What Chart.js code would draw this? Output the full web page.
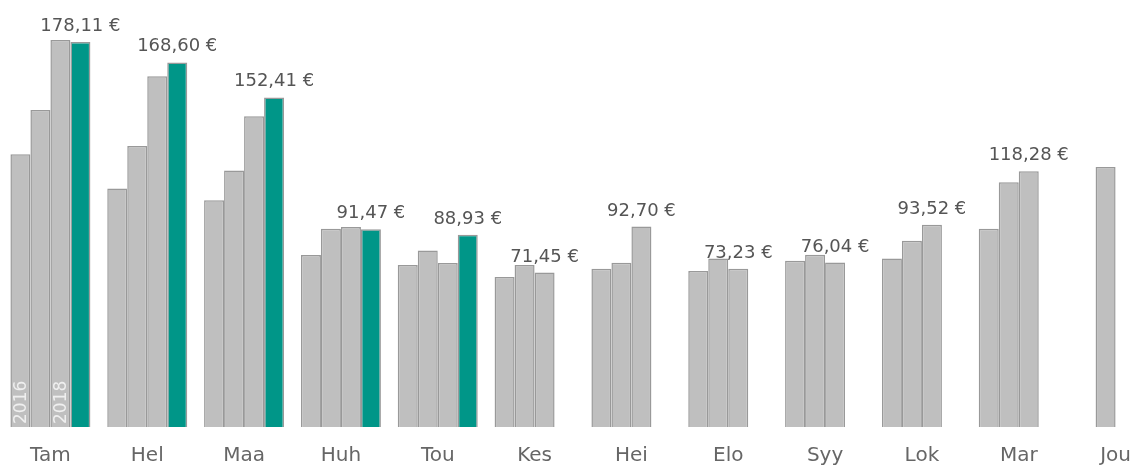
<!DOCTYPE html>
<html>
<head>
<meta charset="utf-8">
<script src="https://cdn.jsdelivr.net/npm/chart.js@4"></script>
<style>
  html, body { margin: 0; padding: 0; background: #fff; overflow: hidden; }
  #clip { position: relative; width: 1134px; height: 468px; overflow: hidden; }
  #wrap { position: relative; width: 1164px; height: 485px; }
</style>
</head>
<body>
<div id="clip"><div id="wrap"><canvas id="c"></canvas></div></div>
<script>
const months = ['Tam','Hel','Maa','Huh','Tou','Kes','Hei','Elo','Syy','Lok','Mar','Jou'];
const years = ['2016','2017','2018','2019'];
const v2016 = [126.2, 110.3, 104.9, 79.6, 74.9, 69.4, 73.2, 72.2, 76.9, 77.9, 91.7, null];
const v2017 = [146.6, 130.0, 118.6, 91.7, 81.6, 74.9, 76.0, 77.9, 79.7, 86.2, 113.2, 120.3];
const v2018 = [179.0, 162.2, 143.7, 92.5, 75.9, 71.45, 92.70, 73.23, 76.04, 93.52, 118.28, null];
const v2019 = [178.11, 168.60, 152.41, 91.47, 88.93, null, null, null, null, null, null, null];

const GRAY = '#bfbfbf', EDGE = '#999999', TEAL = '#009688';
const series = [v2016, v2017, v2018, v2019];

const labelPlugin = {
  id: 'labels',
  afterDatasetsDraw(chart) {
    const ctx = chart.ctx;
    ctx.save();
    ctx.font = '18px "DejaVu Sans"';
    ctx.fillStyle = '#555555';
    ctx.textAlign = 'center';
    ctx.textBaseline = 'alphabetic';
    months.forEach((m, i) => {
      let last = -1;
      series.forEach((s, d) => { if (s[i] != null) last = d; });
      if (last >= 2) {
        const bar = chart.getDatasetMeta(last).data[i];
        const txt = series[last][i].toFixed(2).replace('.', ',') + ' €';
        ctx.fillText(txt, bar.x, bar.y - 11);
      }
    });
    ctx.font = '17px "DejaVu Sans"';
    ctx.fillStyle = 'rgba(255,255,255,0.75)';
    ctx.textAlign = 'left';
    ctx.textBaseline = 'middle';
    [0, 2].forEach(d => {
      const bar = chart.getDatasetMeta(d).data[0];
      ctx.save();
      ctx.translate(bar.x, bar.base - 3);
      ctx.rotate(-Math.PI / 2);
      ctx.fillText(years[d], 0, 1);
      ctx.restore();
    });
    ctx.restore();
  }
};

new Chart(document.getElementById('c'), {
  type: 'bar',
  data: {
    labels: months,
    datasets: series.map((s, d) => ({
      label: years[d],
      data: s,
      backgroundColor: d === 3 ? TEAL : GRAY,
      borderColor: EDGE,
      borderWidth: 1.5,
      categoryPercentage: 0.826,
      barPercentage: 1.0
    }))
  },
  options: {
    responsive: true,
    maintainAspectRatio: false,
    animation: false,
    layout: { padding: { left: 2, right: 0, top: 0, bottom: 0 } },
    plugins: { legend: { display: false }, tooltip: { enabled: false } },
    scales: {
      x: {
        grid: { display: false, drawTicks: false },
        border: { display: false },
        ticks: { color: '#666666', font: { family: 'DejaVu Sans', size: 20 }, padding: 17, maxRotation: 0, autoSkip: false }
      },
      y: {
        display: false,
        min: 0,
        max: 197.5
      }
    }
  },
  plugins: [labelPlugin]
});
</script>
</body>
</html>
